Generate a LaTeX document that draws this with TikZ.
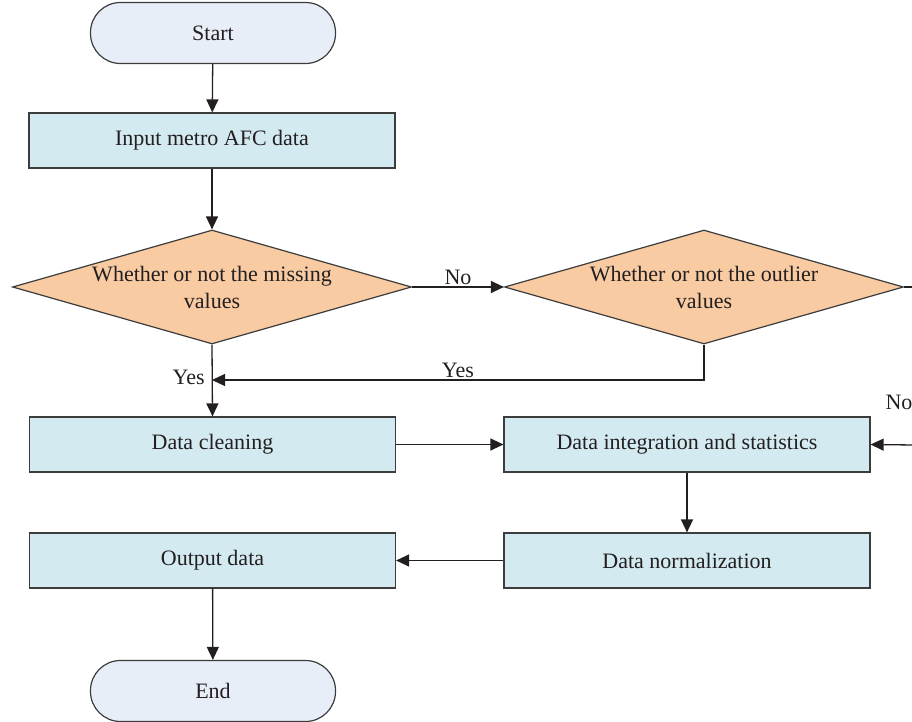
\documentclass[tikz,border=0pt]{standalone}
\usepackage{fontspec}
\setmainfont{Liberation Serif}
\usetikzlibrary{shapes.geometric,arrows.meta}
\definecolor{termfill}{HTML}{E8EEF7}
\definecolor{procfill}{HTML}{D3EAF1}
\definecolor{decfill}{HTML}{F8CBA2}
\definecolor{edgecol}{HTML}{3C3C3C}
\definecolor{txtcol}{HTML}{231F20}
\begin{document}
\begin{tikzpicture}[x=0.5pt,y=-0.5pt,
  every node/.style={font=\fontsize{11}{13.5}\selectfont, text=txtcol},
  term/.style={draw=edgecol, line width=0.6pt, fill=termfill, rounded corners=15pt, minimum width=122.5pt, minimum height=30.5pt, inner sep=0pt},
  proc/.style={draw=edgecol, line width=0.6pt, fill=procfill, minimum width=183pt, minimum height=27.5pt, inner sep=0pt},
  dec/.style={draw=edgecol, line width=0.6pt, fill=decfill, diamond, aspect=3.5, inner sep=0pt, minimum width=199.5pt, minimum height=57pt, align=center},
  conn/.style={draw=txtcol, line width=0.65pt},
  arr/.style={conn, -{Triangle[length=6.5pt,width=6pt]}},
  lbl/.style={inner sep=1pt}
]
\useasboundingbox (0,0) rectangle (912,722);
\clip (0,0) rectangle (912,722);
\node[term] (start) at (213,33) {Start};
\node[proc] (input) at (212,140.5) {Input metro AFC data};
\node[dec] (d1) at (212,287) {Whether or not the missing\\values};
\node[dec] (d2) at (704,287) {Whether or not the outlier\\values};
\node[proc] (clean) at (212.5,444.5) {Data cleaning};
\node[proc] (integ) at (687,444.5) {Data integration and statistics};
\node[proc] (norm) at (687,560.5) {Data normalization};
\node[proc] (output) at (212.5,560.5) {Output data};
\node[term] (end) at (213,691) {End};

\coordinate (rout) at (914,287);
\coordinate (rin) at (914,445);
\coordinate (join) at (212,380);

\draw[arr] (start) -- (input);
\draw[arr] (input) -- (d1);
\draw[arr] (d1.east) -- node[lbl, above] {No} (d2.west);
\draw[conn] (d2.east) -- (rout);
\draw[arr] (d2.south) |- node[lbl, above, pos=0.75] {Yes} (join);
\draw[arr] (d1.south) -- (clean.north);
\node[lbl, anchor=east] (yes1) at (207,377) {Yes};
\draw[arr] (clean) -- (integ);
\draw[arr] (rin) -- (integ.east);
\node[lbl] (no2) at (899,402) {No};
\draw[arr] (integ) -- (norm);
\draw[arr] (norm) -- (output);
\draw[arr] (output) -- (end);
\end{tikzpicture}
\end{document}
